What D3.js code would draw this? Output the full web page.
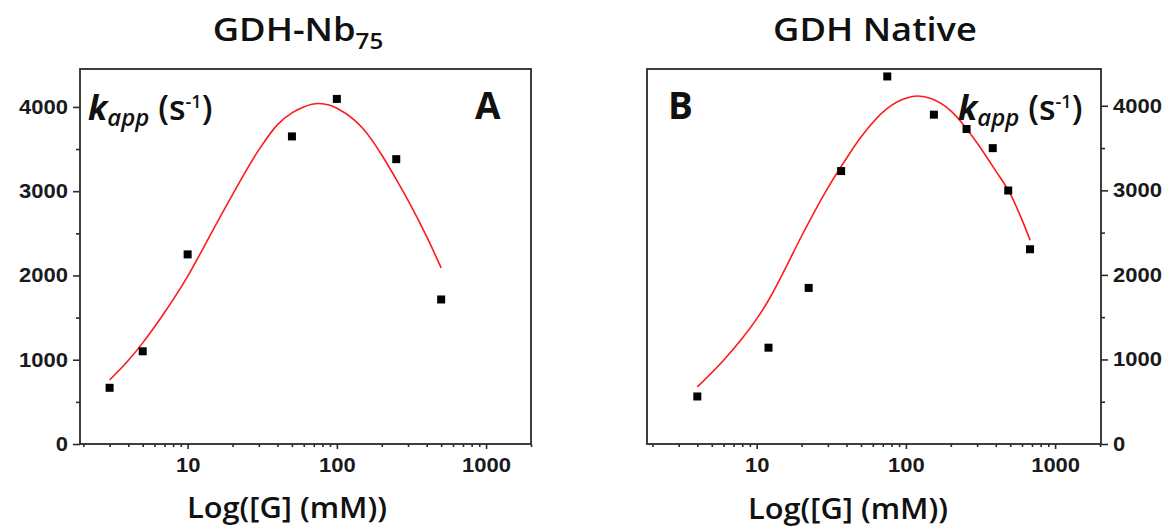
<!DOCTYPE html>
<html><head><meta charset="utf-8">
<script src="https://cdn.jsdelivr.net/npm/d3@7"></script>
<style>body{margin:0;background:#fff} svg{display:block}</style>
</head><body><svg id="c" width="1170" height="530"></svg>
<script>
// ---- data ----
const leftX = [3, 5, 10, 50, 100, 250, 500];
const leftY = [667, 1100, 2250, 3650, 4095, 3380, 1715];
const leftFitX = [3, 4, 5, 7, 10, 15, 20, 30, 40, 50, 60, 75, 90, 100, 130, 150, 200, 250, 300, 400, 500];
const leftFitY = [760, 990, 1200, 1560, 1990, 2560, 2960, 3490, 3790, 3930, 4000, 4040, 4020, 3985, 3850, 3740, 3430, 3140, 2890, 2460, 2090];
const rightX = [4, 12, 22.3, 36.8, 75, 154, 255, 382, 485, 679];
const rightY = [562, 1139, 1846, 3228, 4347, 3895, 3725, 3499, 2998, 2303];
const rightFitX = [4, 6, 8, 10, 12, 15, 20, 30, 40, 50, 75, 100, 120, 150, 200, 250, 300, 400, 500, 600, 680];
const rightFitY = [675, 990, 1250, 1480, 1700, 2020, 2460, 3030, 3380, 3630, 3970, 4090, 4115, 4080, 3940, 3750, 3560, 3230, 2960, 2650, 2410];
const yTickValues = [0, 1000, 2000, 3000, 4000];
const yMinorValues = [500, 1500, 2500, 3500];
const xTickValues = [10, 100, 1000];
const xMinorValues = [2,3,4,5,6,7,8,9,20,30,40,50,60,70,80,90,200,300,400,500,600,700,800,900,2000];
const titles = ["GDH-Nb", "GDH Native"];
const xTitle = "Log([G] (mM))";
const panelLetters = ["A", "B"];

const svg = d3.select("#c");
const tickFont = "'Liberation Sans', Arial, sans-serif";
const textFont = "'Open Sans', sans-serif";
const SX = 1.1; // horizontal stretch of the reference lettering

function stretch(sel) {
  sel.each(function () {
    const t = d3.select(this);
    const x = +t.attr("x") || 0;
    t.attr("x", 0).attr("transform", `translate(${x},0) scale(${SX},1)`);
  });
}

function panel(cfg) {
  const x = d3.scaleLog().domain(cfg.xDomain).range([cfg.x0, cfg.x1]);
  const y = d3.scaleLinear().domain(cfg.yDomain).range([cfg.y1, cfg.y0]);
  const g = svg.append("g");

  // frame
  g.append("rect").attr("x", cfg.x0).attr("y", cfg.y0)
    .attr("width", cfg.x1 - cfg.x0).attr("height", cfg.y1 - cfg.y0)
    .attr("fill", "none").attr("stroke", "#2b2b2b").attr("stroke-width", 1.8);

  // x axis
  g.append("g").attr("transform", `translate(0,${cfg.y1})`)
    .call(d3.axisBottom(x).tickValues(xTickValues).tickSize(5).tickPadding(9).tickFormat(d3.format("d")));
  g.append("g").attr("transform", `translate(0,${cfg.y1})`)
    .call(d3.axisBottom(x).tickValues(xMinorValues).tickSize(3).tickFormat(""));
  // y axis
  const yAxisFn = cfg.yRight ? d3.axisRight : d3.axisLeft;
  g.append("g").attr("transform", `translate(${cfg.yRight ? cfg.x1 : cfg.x0},0)`)
    .call(yAxisFn(y).tickValues(yTickValues).tickSize(7).tickPadding(5).tickFormat(d3.format("d")));
  g.append("g").attr("transform", `translate(${cfg.yRight ? cfg.x1 : cfg.x0},0)`)
    .call(yAxisFn(y).tickValues(yMinorValues).tickSize(4).tickFormat(""));

  g.selectAll(".domain").attr("stroke", "none");
  g.selectAll(".tick line").attr("stroke", "#2b2b2b").attr("stroke-width", 1.6);
  const tt = g.selectAll(".tick text").attr("font-family", tickFont).attr("font-weight", "bold")
    .attr("font-size", 20).attr("fill", "#1a1a1a");
  stretch(tt);

  // fit curve
  const fit = cfg.fitX.map((v, i) => [v, cfg.fitY[i]]);
  g.append("path").datum(fit)
    .attr("d", d3.line().x(d => x(d[0])).y(d => y(d[1])).curve(d3.curveMonotoneX))
    .attr("fill", "none").attr("stroke", "#ff1a1a").attr("stroke-width", 1.6);

  // points
  const pts = cfg.px.map((v, i) => [v, cfg.py[i]]);
  const s = 8;
  g.selectAll("rect.pt").data(pts).enter().append("rect").attr("class", "pt")
    .attr("x", d => x(d[0]) - s / 2).attr("y", d => y(d[1]) - s / 2)
    .attr("width", s).attr("height", s).attr("fill", "#000");

  // title
  const t = svg.append("text").attr("x", cfg.titleX).attr("y", 41).attr("text-anchor", "middle")
    .attr("font-family", textFont).attr("font-weight", 600).attr("font-size", 33).attr("fill", "#111");
  t.append("tspan").text(cfg.title);
  if (cfg.sub) t.append("tspan").attr("font-size", 22).attr("dy", 8).text(cfg.sub);
  stretch(t);

  // x title
  const xt = svg.append("text").attr("x", cfg.xTitleX).attr("y", cfg.xTitleY).attr("text-anchor", "middle")
    .attr("font-family", textFont).attr("font-weight", 600).attr("font-size", 28).attr("fill", "#111")
    .text(xTitle);
  stretch(xt);

  // kapp label
  const k = svg.append("text").attr("x", cfg.kX).attr("y", 120)
    .attr("font-family", textFont).attr("font-weight", 600).attr("font-size", 34).attr("fill", "#111");
  k.append("tspan").attr("font-style", "italic").attr("font-weight", 700).text("k");
  k.append("tspan").attr("font-style", "italic").attr("font-size", 24).attr("dy", 6).text("app");
  k.append("tspan").attr("dy", -6).text(" (s");
  k.append("tspan").attr("font-size", 18).attr("dy", -12).text("-1");
  k.append("tspan").attr("dy", 12).text(")");

  // panel letter
  svg.append("text").attr("x", cfg.letterX).attr("y", 119)
    .attr("font-family", textFont).attr("font-weight", 700).attr("font-size", 37).attr("fill", "#111")
    .text(cfg.letter);
}

panel({
  x0: 80, x1: 531, y0: 69, y1: 444, xDomain: [1.9, 2000], yDomain: [0, 4450], yRight: false,
  px: leftX, py: leftY, fitX: leftFitX, fitY: leftFitY,
  title: titles[0], sub: "75", titleX: 298, xTitleX: 287, xTitleY: 518,
  kX: 88, letter: panelLetters[0], letterX: 475
});
panel({
  x0: 647, x1: 1101, y0: 69, y1: 444, xDomain: [1.84, 2030], yDomain: [0, 4435], yRight: true,
  px: rightX, py: rightY, fitX: rightFitX, fitY: rightFitY,
  title: titles[1], sub: null, titleX: 875, xTitleX: 848, xTitleY: 519,
  kX: 958, letter: panelLetters[1], letterX: 668
});
</script></body></html>
